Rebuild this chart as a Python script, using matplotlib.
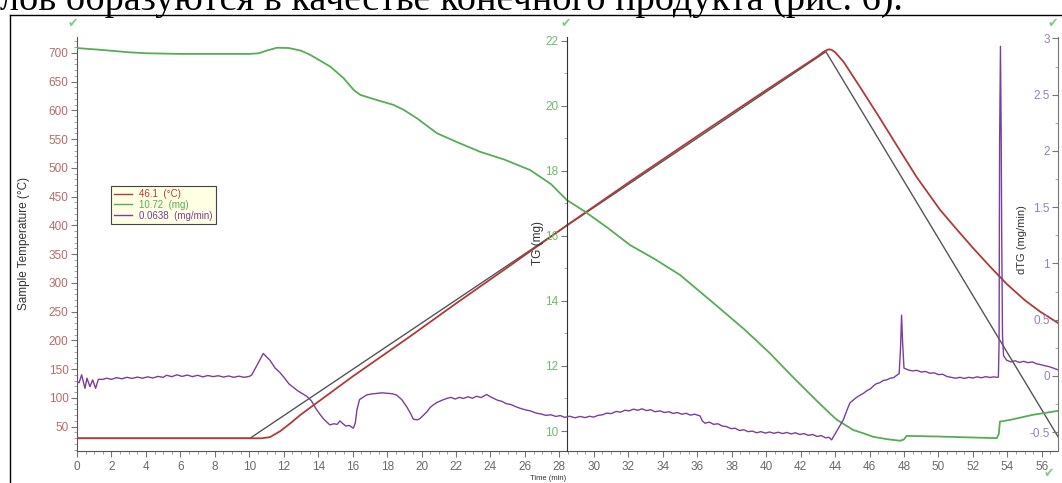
import matplotlib
matplotlib.use('Agg')
import matplotlib.pyplot as plt
from matplotlib.ticker import MultipleLocator
from matplotlib.lines import Line2D

# ---------------- data ----------------
# programme (furnace) temperature, degC
t_prog = [0, 10.04, 43.47, 56.94]
T_prog = [29.5, 29.5, 701.8, 32.3]

# sample temperature, degC
t_temp = [0, 10.7, 11.2, 11.8, 12.4, 13.0, 14.0, 16.0, 19.3, 22.0, 25.0, 28.44,
          32.0, 36.0, 40.0, 43.0, 43.3, 43.5, 43.65, 43.8, 44.0, 44.5, 45.5,
          46.5, 47.6, 48.73, 50.09, 51.0, 52.02, 53.0, 53.96, 55.0, 55.89, 56.94]
T_temp = [29.5, 29.5, 31.5, 42, 56, 71, 93, 137, 206, 264, 327, 400,
          474, 555, 635, 694, 701, 704.5, 706, 705, 701, 684, 638,
          591, 538, 484, 427, 395, 360, 328, 298, 270, 250, 230]

# TG, mg
t_tg = [0, 1.5, 3, 4.02, 6, 8.05, 10.0, 10.56, 11.0, 11.61, 12.3, 13.0, 13.54,
        14.7, 15.48, 16.06, 16.44, 17.41, 18.38, 18.96, 19.73, 20.89, 22.0,
        23.39, 24.8, 26.29, 27.5, 28.42, 29.48, 30.8, 32.1, 33.5, 35.0, 36.8,
        38.77, 40.2, 41.57, 42.8, 43.7, 44.09, 45.06, 45.64, 46.22, 47.0,
        47.77, 48.0, 48.15, 50.0, 52.0, 53.38, 53.5, 53.57, 54.15, 55.5, 56.94]
m_tg = [21.78, 21.72, 21.65, 21.62, 21.6, 21.6, 21.6, 21.62, 21.7, 21.79,
        21.78, 21.7, 21.57, 21.21, 20.85, 20.49, 20.34, 20.18, 20.03, 19.88,
        19.62, 19.16, 18.9, 18.59, 18.35, 18.03, 17.6, 17.11, 16.75, 16.25,
        15.72, 15.3, 14.8, 14.0, 13.11, 12.4, 11.65, 11.0, 10.54, 10.35,
        10.03, 9.93, 9.82, 9.75, 9.70, 9.74, 9.85, 9.83, 9.8, 9.78, 9.9,
        10.29, 10.34, 10.5, 10.62]

# dTG, mg/min
t_dtg = [0.0, 0.12, 0.27, 0.38, 0.46, 0.58, 0.75, 0.91, 1.08, 1.24, 1.5,
         1.72, 2.0, 2.3, 2.6, 2.9, 3.2, 3.5, 3.8, 4.1, 4.4, 4.7, 5.0, 5.2, 5.5,
         5.8, 6.1, 6.4, 6.7, 7.0, 7.3, 7.6, 7.9, 8.2, 8.5, 8.8, 9.1, 9.4, 9.7,
         10.0,
         10.14, 10.5, 10.81, 11.0, 11.2, 11.5, 11.78, 12.0, 12.3, 12.55, 12.75,
         13.0, 13.33, 13.6, 13.91, 14.1, 14.3, 14.5, 14.68, 14.9, 15.1, 15.26,
         15.4, 15.6, 15.8, 16.04, 16.15, 16.25, 16.4, 16.6, 16.81, 17.1, 17.4,
         17.7, 17.97, 18.3, 18.55, 18.85, 19.13, 19.35, 19.52, 19.75, 19.9,
         20.1, 20.3, 20.5, 20.68,
         20.9, 21.2, 21.46, 21.7, 21.95, 22.2, 22.42, 22.7, 22.95, 23.2, 23.45,
         23.78, 24.0, 24.2, 24.4, 24.65, 24.9, 25.2, 25.45, 25.71, 26.0, 26.3,
         26.68, 26.95, 27.2, 27.5, 27.8, 28.05, 28.3, 28.6, 28.9, 29.2, 29.5,
         29.75, 29.97, 30.25, 30.5, 30.75, 31.0, 31.3, 31.55, 31.8, 32.05,
         32.3, 32.55, 32.8, 33.05, 33.3, 33.55, 33.84, 34.1, 34.35, 34.6,
         34.85, 35.1, 35.35, 35.6, 35.85, 36.16, 36.3, 36.45, 36.7, 36.95,
         37.2, 37.45, 37.7, 37.95, 38.2, 38.45, 38.7, 38.95, 39.2, 39.45,
         39.7, 39.95, 40.2, 40.45, 40.7, 40.95, 41.2, 41.45, 41.7, 41.95,
         42.2, 42.45, 42.7, 42.95, 43.2, 43.45, 43.65, 43.8,
         44.1, 44.48, 44.7, 44.86, 45.05, 45.25, 45.44, 45.64, 45.85, 46.05,
         46.25, 46.41, 46.6, 46.8, 47.0, 47.2, 47.4, 47.57, 47.72,
         47.8, 47.86, 47.92, 48.0,
         48.25, 48.5, 48.75, 49.0, 49.25, 49.5, 49.75, 50.0, 50.25, 50.5,
         50.75, 51.0, 51.25, 51.5, 51.75, 52.0, 52.25, 52.5, 52.75, 53.0,
         53.2, 53.38, 53.48,
         53.52, 53.55, 53.6, 53.64, 53.67, 53.72, 53.78,
         53.96, 54.2, 54.45, 54.7, 54.95, 55.2, 55.45, 55.7, 55.95, 56.2,
         56.45, 56.7, 56.94]
v_dtg = [-0.05, -0.06, 0.01, -0.06, -0.11, -0.02, -0.095, -0.035, -0.11, -0.03,
         -0.03,
         -0.02, -0.03, -0.015, -0.025, -0.012, -0.022, -0.01, -0.02, -0.008,
         -0.018, -0.004, -0.012, 0.006, -0.006, 0.01, -0.004, 0.008, -0.006,
         0.006, -0.008, 0.004, -0.006, 0.002, -0.01, 0.0, -0.012, -0.002,
         -0.012, -0.004,
         0.009, 0.11, 0.20, 0.17, 0.14, 0.07, 0.03, -0.01, -0.07, -0.1, -0.125,
         -0.15, -0.18, -0.22, -0.30, -0.34, -0.38, -0.41, -0.435, -0.425,
         -0.43, -0.40, -0.42, -0.445, -0.44, -0.464, -0.42, -0.3, -0.21, -0.19,
         -0.169, -0.16, -0.155, -0.15, -0.154, -0.158, -0.17, -0.21, -0.272,
         -0.33, -0.384, -0.39, -0.38, -0.35, -0.32, -0.28, -0.257,
         -0.235, -0.215, -0.2, -0.19, -0.205, -0.19, -0.2, -0.185, -0.198,
         -0.18, -0.192, -0.165, -0.185, -0.2, -0.215, -0.225, -0.245, -0.255,
         -0.272, -0.287, -0.3, -0.31, -0.331, -0.338, -0.35, -0.345, -0.36,
         -0.352, -0.368, -0.358, -0.372, -0.36, -0.37, -0.358, -0.366, -0.35,
         -0.345, -0.33, -0.335, -0.315, -0.322, -0.305, -0.31, -0.295, -0.305,
         -0.292, -0.308, -0.3, -0.318, -0.31, -0.325, -0.318, -0.333, -0.325,
         -0.34, -0.332, -0.348, -0.34, -0.355, -0.4, -0.42, -0.41, -0.43,
         -0.425, -0.445, -0.45, -0.468, -0.465, -0.485, -0.478, -0.495, -0.49,
         -0.505, -0.495, -0.508, -0.498, -0.51, -0.5, -0.512, -0.502, -0.515,
         -0.505, -0.52, -0.512, -0.528, -0.52, -0.538, -0.53, -0.55, -0.545,
         -0.568,
         -0.49, -0.39, -0.3, -0.24, -0.215, -0.19, -0.172, -0.155, -0.13,
         -0.115, -0.085, -0.068, -0.06, -0.04, -0.035, -0.02, -0.015, 0.005,
         0.02,
         0.25, 0.54, 0.3, 0.07,
         0.053, 0.045, 0.05, 0.035, 0.04, 0.024, 0.028, 0.012, 0.015, -0.005,
         -0.012, -0.02, -0.012, -0.022, -0.012, -0.018, -0.008, -0.016,
         -0.006, -0.014, -0.008, -0.012, -0.01,
         0.3, 2.05, 2.93, 2.2, 1.3, 0.35, 0.18,
         0.14, 0.125, 0.135, 0.12, 0.13, 0.118, 0.125, 0.108, 0.1, 0.09,
         0.082, 0.068, 0.055]

# legend readings
legend_labels = ['46.1  (\u00b0C)', '10.72  (mg)', '0.0638  (mg/min)']

# x / y ranges
x_range = (0, 56.94)
x_mid_axis = 28.44
temp_range = (7.4, 727.4)
tg_range = (9.385, 22.12)
dtg_range = (-0.667, 3.013)

# ---------------- styling ----------------
C_RED = '#b03a3a'
C_GRAY = '#555555'
C_GREEN = '#55ad55'
C_PURPLE = '#7a3e9d'
C_TEMP_TXT = '#b86a6a'
C_TG_TXT = '#6dbd6d'
C_DTG_TXT = '#9b7cc0'
C_X_TXT = '#6a6a6a'
SANS = 'Liberation Sans'

W, H = 1062, 483
fig = plt.figure(figsize=(W / 100, H / 100), dpi=100)

ax = fig.add_axes([77 / W, 1 - 451 / H, (1058 - 77) / W, (451 - 37) / H])
ax2 = ax.twinx()
ax3 = ax.twinx()

ax.set_xlim(*x_range)
ax.set_ylim(*temp_range)
ax2.set_ylim(*tg_range)
ax3.set_ylim(*dtg_range)

# lines
ax.plot(t_prog, T_prog, color=C_GRAY, lw=1.0, zorder=3)
ax.plot(t_temp, T_temp, color=C_RED, lw=1.3, zorder=4)
ax2.plot(t_tg, m_tg, color=C_GREEN, lw=1.3)
ax3.plot(t_dtg, v_dtg, color=C_PURPLE, lw=1.0)

# spines
for a in (ax, ax2, ax3):
    for s in a.spines.values():
        s.set_visible(False)
ax.spines['left'].set_visible(True)
ax.spines['bottom'].set_visible(True)
ax.spines['left'].set_color('#555555')
ax.spines['bottom'].set_color('#555555')

for a, pos, col in ((ax2, ('data', x_mid_axis), '#333333'), (ax3, ('axes', 1.0), '#777777')):
    a.yaxis.tick_left()
    a.yaxis.set_label_position('left')
    a.spines['left'].set_visible(True)
    a.spines['left'].set_position(pos)
    a.spines['left'].set_color(col)

# ticks
ax.xaxis.set_major_locator(MultipleLocator(2))
ax.xaxis.set_minor_locator(MultipleLocator(0.5))
ax.set_yticks(range(50, 701, 50))
ax.yaxis.set_minor_locator(MultipleLocator(10))
ax2.set_yticks(range(10, 23, 2))
ax2.yaxis.set_minor_locator(MultipleLocator(1))
ax3.set_yticks([-0.5, 0, 0.5, 1, 1.5, 2, 2.5, 3])
ax3.set_yticklabels(['-0.5', '0', '0.5', '1', '1.5', '2', '2.5', '3'])
ax3.yaxis.set_minor_locator(MultipleLocator(0.25))

ax.tick_params(axis='x', which='major', length=4, color='#777777', labelsize=8.5,
               labelcolor=C_X_TXT, pad=3)
ax.tick_params(axis='x', which='minor', length=2, color='#888888')
for a, c in ((ax, C_TEMP_TXT), (ax2, C_TG_TXT), (ax3, C_DTG_TXT)):
    a.tick_params(axis='y', which='major', length=4, color='#777777', labelsize=8.5,
                  labelcolor=c, pad=2)
    a.tick_params(axis='y', which='minor', length=2, color='#999999')
    for lab in a.get_yticklabels():
        lab.set_family(SANS)
for lab in ax.get_xticklabels():
    lab.set_family(SANS)

# axis labels (x coordinate = right edge of the rotated text)
ax.set_ylabel('Sample Temperature (\u00b0C)', fontsize=8.5, family=SANS, color='#333333')
ax.yaxis.set_label_coords((30 - 77) / 981, (451 - 243) / 414)
ax2.set_ylabel('TG (mg)', fontsize=8.5, family=SANS, color='#333333')
ax2.yaxis.set_label_coords((544 - 77) / 981, (451 - 243) / 414)
ax3.set_ylabel('dTG (mg/min)', fontsize=8, family=SANS, color='#333333')
ax3.yaxis.set_label_coords((1027 - 77) / 981, (451 - 240) / 414)
ax.set_xlabel('Time (min)', fontsize=5.5, family=SANS, color='#333333')
ax.xaxis.set_label_coords((548 - 77) / 981, (451 - 475) / 414)

# legend
red_handle = Line2D([], [], color=C_RED, lw=1.0)
grn_handle = Line2D([], [], color=C_GREEN, lw=1.0)
pur_handle = Line2D([], [], color=C_PURPLE, lw=1.0)
leg = fig.legend([red_handle, grn_handle, pur_handle], legend_labels,
                 loc='upper left', bbox_to_anchor=(111 / W, 1 - 186 / H),
                 bbox_transform=fig.transFigure, borderaxespad=0,
                 prop={'family': SANS, 'size': 7.0}, labelcolor='linecolor',
                 handlelength=1.85, handletextpad=0.75, labelspacing=0.1,
                 borderpad=0.3, fancybox=False, framealpha=1,
                 facecolor='#ffffe4', edgecolor='#444444')
leg.get_frame().set_linewidth(0.8)

# decorations: outer frame and check marks
fig.add_artist(Line2D([10 / W, 10 / W], [0, 1 - 15 / H], color='black', lw=1.0,
                      transform=fig.transFigure))
fig.add_artist(Line2D([10 / W, 1], [1 - 15 / H, 1 - 15 / H], color='black', lw=1.0,
                      transform=fig.transFigure))
for (px, py) in ((73, 23), (566, 23), (1053, 23), (1049, 474)):
    fig.text(px / W, 1 - py / H, '\u2714', color='#86c986', fontsize=9,
             ha='center', va='center', family='DejaVu Sans')

# top document line (cut by the top edge, as in the source)
fig.text(0.0, 1 - 10 / H, 'лов образуются в качестве конечного продукта (рис. 6).',
         fontsize=27.5, family='Liberation Serif', ha='left', va='baseline',
         color='black')

fig.savefig('out.png', dpi=100)
